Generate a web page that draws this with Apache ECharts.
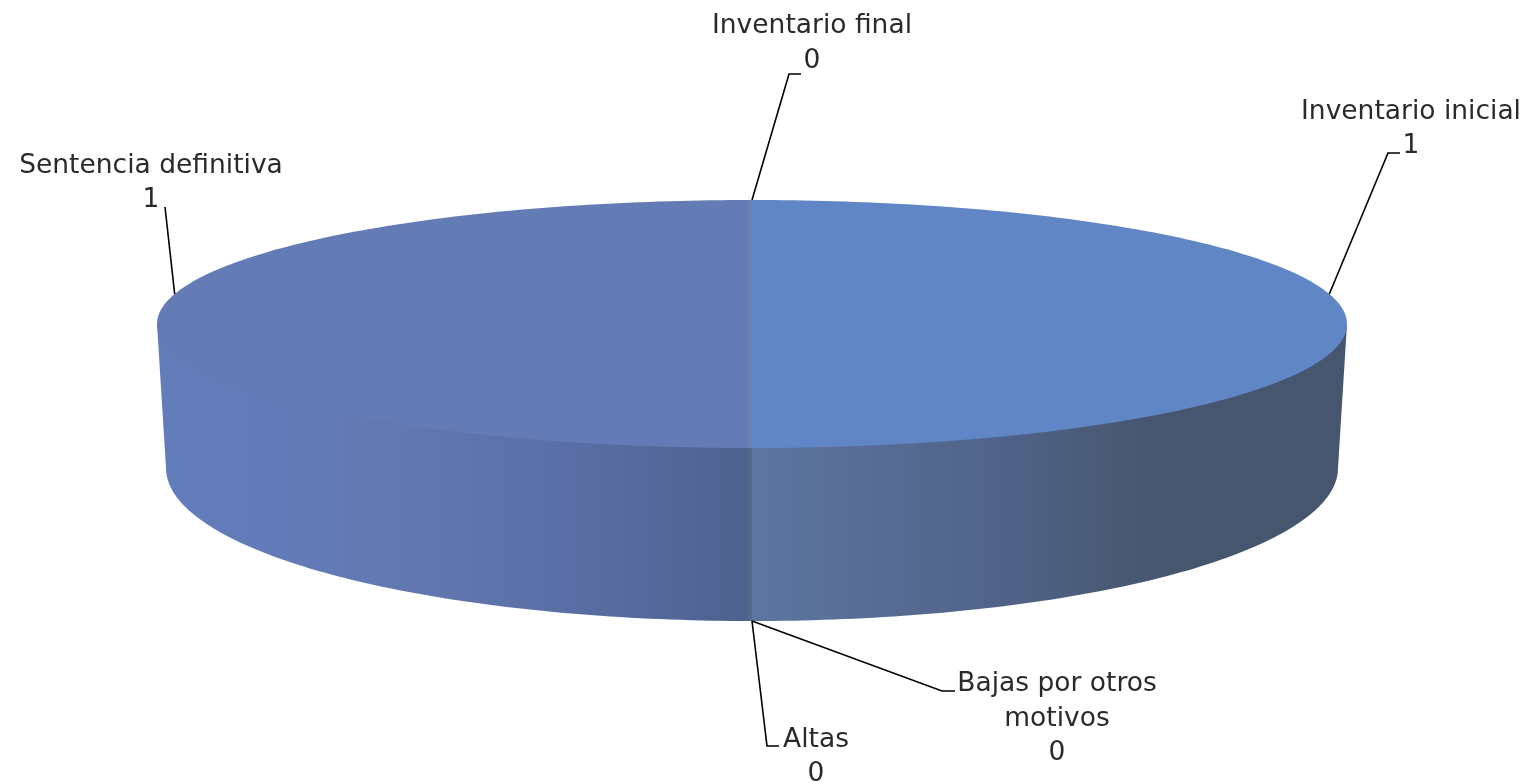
<!DOCTYPE html>
<html>
<head>
<meta charset="utf-8">
<style>html,body{margin:0;padding:0;background:#fff}#chart{width:1534px;height:783px}</style>
<script src="https://cdn.jsdelivr.net/npm/echarts@6/dist/echarts.min.js"></script>
</head>
<body>
<div id="chart"></div>
<script>
// Data, clockwise from 12 o'clock
const categories = ['Inventario inicial', 'Altas', 'Bajas por otros\nmotivos', 'Sentencia definitiva', 'Inventario final'];
const values = [1, 0, 0, 1, 0];

// Disc geometry in axis units
const topDisc = { cx: 752, cy: 324, rx: 595, ry: 124 };
const baseDisc = { cx: 752, cy: 468, rx: 586, ry: 153 };

// Label layout
const labelCentres = [[1411, 129], [816, 757], [1057, 719], [151, 183], [812, 43.5]];
const anchorShift = [-14, 0, 0, 14, 0];
const anchorOnBase = [false, true, true, false, false];
const leaderBends = [
  [[1388, 153], [1400, 153]],
  [[767, 746], [779, 746]],
  [[942, 691], [955, 691]],
  [[165, 207]],
  [[789, 74], [801, 74]]
];

// Styles
const FONT = '"DejaVu Sans"';
const FONT_SIZE = 26.5;
const topStops = {
  right: [[0, '#6186c6'], [1, '#6186c6']],
  left: [[0, '#647cb6'], [0.993, '#647cb6'], [0.994, '#6b80b3'], [1, '#6b80b3']]
};
const wallStops = {
  right: [[0, '#5c76a0'], [0.25, '#566a92'], [0.45, '#4f6285'], [0.67, '#47566f'], [1, '#47566f']],
  left: [[0, '#627dba'], [0.22, '#627cb9'], [0.4, '#6278b0'], [0.68, '#5a6fa6'], [0.992, '#4e6290'], [0.993, '#566789'], [1, '#566789']]
};

const total = values.reduce((a, b) => a + b, 0);
let running = 0;
const slices = values.map(v => {
  const start = running / total * 360;
  running += v;
  return { start, end: running / total * 360 };
});

const rad = d => d * Math.PI / 180;
const onDisc = (disc, deg) => [disc.cx + disc.rx * Math.sin(rad(deg)), disc.cy - disc.ry * Math.cos(rad(deg))];
function arc(disc, a, b) {
  const pts = [];
  const n = Math.max(1, Math.ceil(Math.abs(b - a)));
  for (let i = 0; i <= n; i++) pts.push(onDisc(disc, a + (b - a) * i / n));
  return pts;
}
const horizontal = stops => ({
  type: 'linear', x: 0, y: 0, x2: 1, y2: 0,
  colorStops: stops.map(c => ({ offset: c[0], color: c[1] }))
});

function renderItem(params, api) {
  const i = api.value(0);
  const s = slices[i];
  const toPx = pts => pts.map(p => api.coord(p));
  const children = [];

  if (s.end > s.start) {
    const isRight = s.end <= 180;
    const a = Math.max(s.start, 90), b = Math.min(s.end, 270);
    const centre = [topDisc.cx, topDisc.cy];
    if (b > a) {
      // the wall runs under the top face so that no seam shows between them
      const pts = [onDisc(topDisc, a)].concat(arc(baseDisc, a, b), [onDisc(topDisc, b), centre]);
      children.push({
        type: 'polygon',
        shape: { points: toPx(pts) },
        style: { fill: horizontal(isRight ? wallStops.right : wallStops.left) }
      });
    }
    children.push({
      type: 'polygon',
      shape: { points: toPx([centre].concat(arc(topDisc, s.start, s.end))) },
      style: { fill: horizontal(isRight ? topStops.right : topStops.left) }
    });
  }

  const mid = (s.start + s.end) / 2 + anchorShift[i];
  const anchor = onDisc(anchorOnBase[i] ? baseDisc : topDisc, mid);
  children.push({
    type: 'polyline',
    z2: 10,
    shape: { points: toPx([anchor].concat(leaderBends[i])) },
    style: { stroke: '#000', lineWidth: 1.6, fill: null }
  });

  const c = api.coord(labelCentres[i]);
  children.push({
    type: 'text',
    z2: 11,
    x: c[0], y: c[1],
    style: {
      text: categories[i] + '\n' + values[i],
      align: 'center', verticalAlign: 'middle',
      font: FONT_SIZE + 'px ' + FONT,
      lineHeight: 34.5,
      fill: '#2a2a2a'
    }
  });
  return { type: 'group', children };
}

const chart = echarts.init(document.getElementById('chart'), null, { width: 1534, height: 783 });
chart.setOption({
  animation: false,
  backgroundColor: '#fff',
  grid: { left: 0, right: 0, top: 0, bottom: 0 },
  xAxis: { type: 'value', min: 0, max: 1534, show: false },
  yAxis: { type: 'value', min: 0, max: 783, inverse: true, show: false },
  series: [{
    type: 'custom',
    coordinateSystem: 'cartesian2d',
    clip: false,
    silent: true,
    renderItem,
    encode: { x: 0, y: 1 },
    data: values.map((v, i) => ({ name: categories[i], value: [i, v] }))
  }]
});
</script>
</body>
</html>
